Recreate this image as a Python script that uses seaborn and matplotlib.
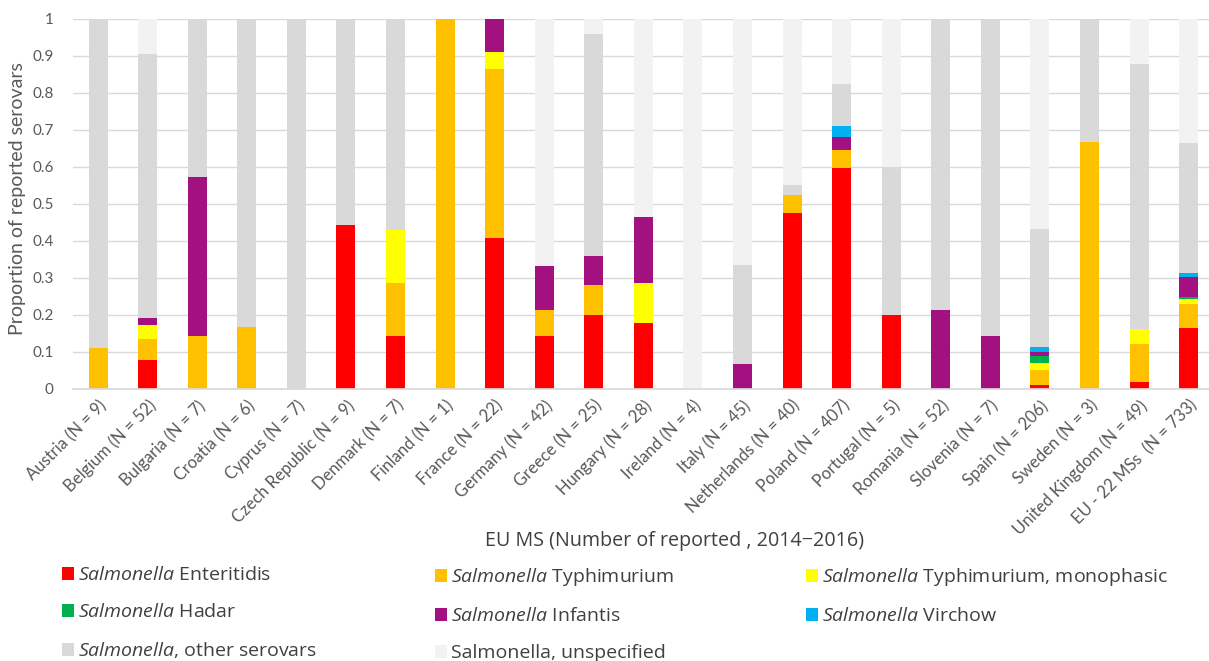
import matplotlib
matplotlib.use("Agg")
import matplotlib.pyplot as plt
from matplotlib.patches import Patch
import seaborn as sns
import pandas as pd
import numpy as np

countries = ["Austria (N = 9)", "Belgium (N = 52)", "Bulgaria (N = 7)", "Croatia (N = 6)",
             "Cyprus (N = 7)", "Czech Republic (N = 9)", "Denmark (N = 7)", "Finland (N = 1)",
             "France (N = 22)", "Germany (N = 42)", "Greece (N = 25)", "Hungary (N = 28)",
             "Ireland (N = 4)", "Italy (N = 45)", "Netherlands (N = 40)", "Poland (N = 407)",
             "Portugal (N = 5)", "Romania (N = 52)", "Slovenia (N = 7)", "Spain (N = 206)",
             "Sweden (N = 3)", "United Kingdom (N = 49)", "EU - 22 MSs  (N = 733)"]

enteritidis = [0, 0.077, 0, 0, 0, 0.444, 0.143, 0, 0.409, 0.143, 0.200, 0.179, 0, 0, 0.475,
               0.597, 0.200, 0, 0, 0.010, 0, 0.020, 0.166]
typhimurium = [0.111, 0.058, 0.143, 0.167, 0, 0, 0.143, 1.0, 0.455, 0.071, 0.080, 0, 0, 0, 0.050,
               0.048, 0, 0, 0, 0.041, 0.667, 0.102, 0.063]
monophasic = [0, 0.038, 0, 0, 0, 0, 0.143, 0, 0.045, 0, 0, 0.107, 0, 0, 0,
              0, 0, 0, 0, 0.018, 0, 0.041, 0.014]
hadar = [0, 0, 0, 0, 0, 0, 0, 0, 0, 0, 0, 0, 0, 0, 0,
         0, 0, 0, 0, 0.021, 0, 0, 0.006]
infantis = [0, 0.019, 0.429, 0, 0, 0, 0, 0, 0.091, 0.119, 0.080, 0.179, 0, 0.067, 0,
            0.036, 0, 0.212, 0.143, 0.011, 0, 0, 0.054]
virchow = [0, 0, 0, 0, 0, 0, 0, 0, 0, 0, 0, 0, 0, 0, 0,
           0.029, 0, 0, 0, 0.013, 0, 0, 0.009]
other = [0.889, 0.712, 0.429, 0.833, 1.0, 0.556, 0.571, 0, 0, 0, 0.600, 0, 0, 0.267, 0.025,
         0.113, 0.400, 0.788, 0.857, 0.317, 0.333, 0.714, 0.353]
unspecified = [0, 0.096, 0, 0, 0, 0, 0, 0, 0, 0.667, 0.040, 0.536, 1.0, 0.667, 0.450,
               0.177, 0.400, 0, 0, 0.569, 0, 0.122, 0.335]

series_names = ["Enteritidis", "Typhimurium", "Typhimurium, monophasic", "Hadar",
                "Infantis", "Virchow", "other serovars", "unspecified"]
series_labels = [r"$\mathit{Salmonella}$ Enteritidis",
                 r"$\mathit{Salmonella}$ Typhimurium",
                 r"$\mathit{Salmonella}$ Typhimurium, monophasic",
                 r"$\mathit{Salmonella}$ Hadar",
                 r"$\mathit{Salmonella}$ Infantis",
                 r"$\mathit{Salmonella}$ Virchow",
                 r"$\mathit{Salmonella}$, other serovars",
                 "Salmonella, unspecified"]
colors = ["#FF0000", "#FFC000", "#FFFF00", "#00B050", "#A2117F", "#00B0F0", "#D9D9D9", "#F2F2F2"]
ytick_labels = ["0", "0.1", "0.2", "0.3", "0.4", "0.5", "0.6", "0.7", "0.8", "0.9", "1"]

sns.set_theme(style="white")
plt.rcParams["font.family"] = ["Lato", "DejaVu Sans"]
plt.rcParams["mathtext.fontset"] = "custom"
plt.rcParams["mathtext.rm"] = "Open Sans"
plt.rcParams["mathtext.it"] = "Open Sans:italic"

values = [enteritidis, typhimurium, monophasic, hadar, infantis, virchow, other, unspecified]
df = pd.DataFrame({"country": countries})
cum = np.zeros(len(countries))
for name, v in zip(series_names, values):
    cum = cum + np.array(v)
    df[name] = cum.copy()

fig = plt.figure(figsize=(12.09, 6.61), dpi=100)
ax = fig.add_axes([73.3 / 1209, 1 - 389 / 661, (1213.4 - 73.3) / 1209, (389 - 18.7) / 661])

for name, col in reversed(list(zip(series_names, colors))):
    sns.barplot(data=df, x="country", y=name, order=countries, color=col, saturation=1,
                width=0.383, errorbar=None, ax=ax, linewidth=0)

ax.set_ylim(0, 1)
ax.set_xlim(-0.5, len(countries) - 0.5)
ax.set_yticks(np.linspace(0, 1, 11))
ax.set_yticklabels(ytick_labels, fontsize=11, color="#595959")
ax.yaxis.grid(True, color="#D9D9D9", lw=1)
ax.set_axisbelow(True)
for s in ["top", "right", "left"]:
    ax.spines[s].set_visible(False)
ax.spines["bottom"].set_color("#D9D9D9")
ax.tick_params(axis="y", length=0, pad=14)
ax.tick_params(axis="x", length=0, pad=6)
ax.set_xticks(range(len(countries)))
ax.set_xticklabels(countries, rotation=45, ha="right", rotation_mode="anchor",
                   fontsize=12, color="#595959")
ax.set_xlabel("")
ax.set_ylabel("")

fig.text(18 / 1209, 1 - 198.5 / 661, "Proportion of reported serovars", rotation=90,
         ha="center", va="center", fontsize=14, color="#595959")
fig.text(675 / 1209, 1 - 541 / 661, "EU MS (Number of reported , 2014\u22122016)",
         ha="center", va="center", fontsize=14.2, color="#404040", family="Open Sans")

handles = [Patch(facecolor=c, edgecolor="none") for c in colors]
col_x = [62 / 1209, 435 / 1209, 806 / 1209]
groups = [[0, 3, 6], [1, 4, 7], [2, 5]]
for x0, g in zip(col_x, groups):
    fig.legend([handles[i] for i in g], [series_labels[i] for i in g],
               loc="upper left", bbox_to_anchor=(x0, 1 - 566.5 / 661), frameon=False,
               prop={"family": "Open Sans", "size": 14},
               handlelength=0.62, handleheight=0.62, handletextpad=0.2,
               labelspacing=0.97, borderpad=0, borderaxespad=0, labelcolor="#404040")

fig.savefig("out.png", dpi=100)
